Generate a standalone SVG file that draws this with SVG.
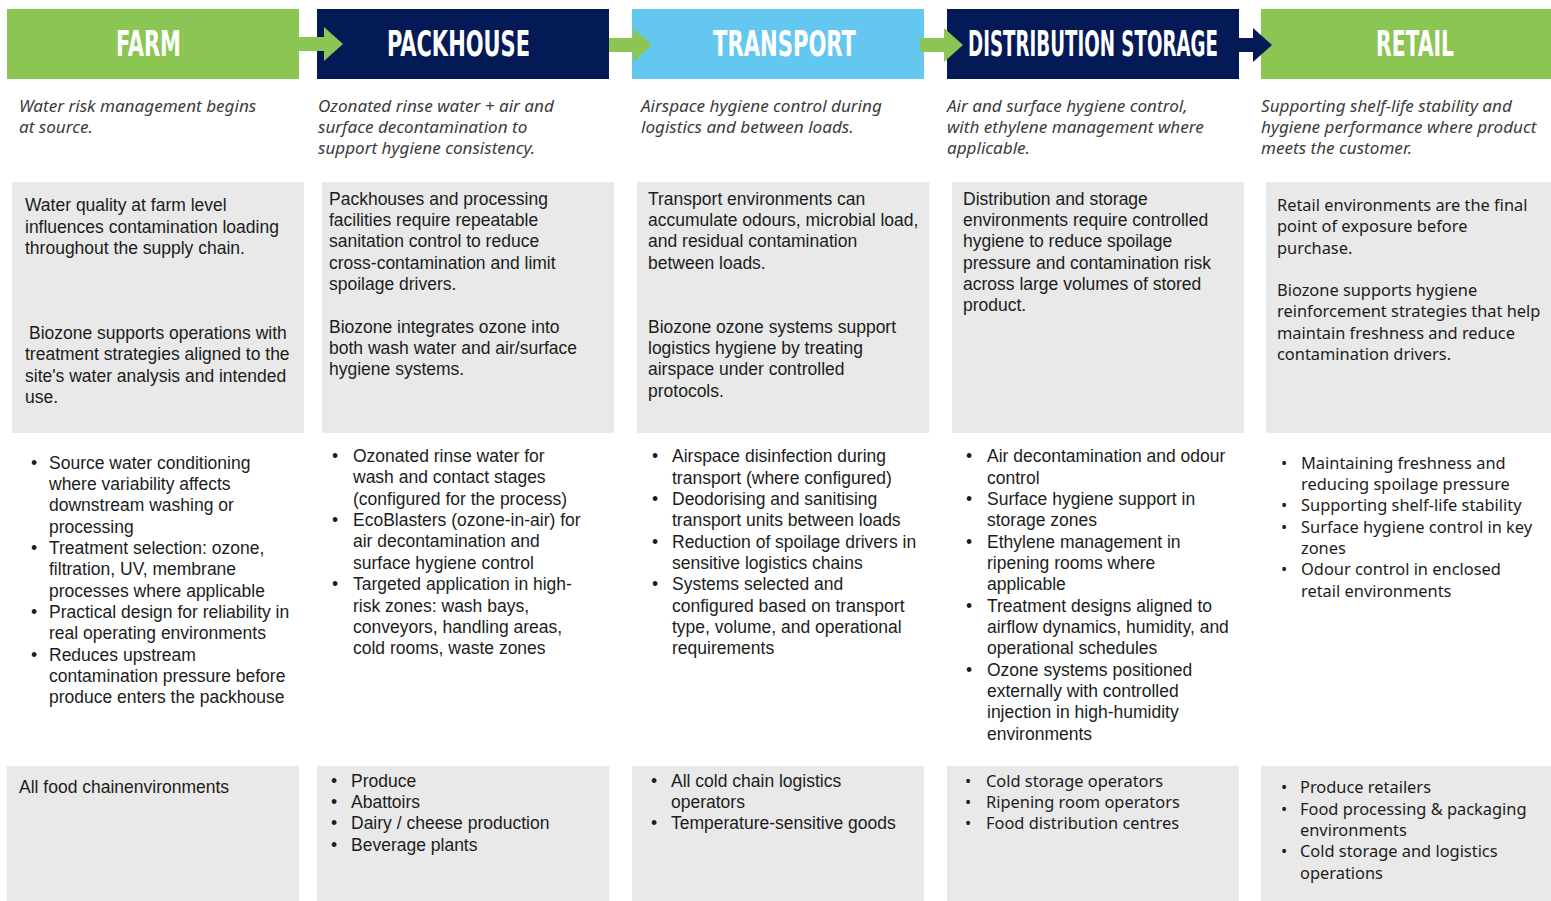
<svg xmlns="http://www.w3.org/2000/svg" width="1551" height="901" viewBox="0 0 1551 901">
<style>
.hdr{font-family:"Liberation Sans Narrow","DejaVu Sans Condensed","Roboto Condensed",sans-serif;font-weight:bold;font-stretch:condensed;font-size:26px;fill:#ffffff;text-anchor:middle}
.sub{font-family:"Noto Sans","Liberation Sans",sans-serif;font-style:italic;font-size:17.1px;fill:#3c3c3c}
.t{font-family:"Liberation Sans",Arial,sans-serif;font-size:17.5px;fill:#1c1c1c}
.n{font-family:"Noto Sans","Open Sans",sans-serif;font-size:16.4px;fill:#1c1c1c}
.card{fill:#e8e9e8}
.green{fill:#8bc553}
.navy{fill:#041a56}
.sky{fill:#63c7ef}
</style>
<rect width="1551" height="901" fill="#ffffff"/>

<g id="farm">
<rect class="green" x="7" y="9" width="292" height="70"/>
<text class="hdr" transform="translate(148.5,56) scale(1,1.385)" x="0" y="0" textLength="65" lengthAdjust="spacingAndGlyphs">FARM</text>
<text class="sub"><tspan x="19" y="111.5">Water risk management begins</tspan><tspan x="19" y="132.5">at source.</tspan></text>
<rect class="card" x="12" y="182" width="292" height="251"/>
<text class="t"><tspan x="25" y="211">Water quality at farm level</tspan><tspan x="25" y="232.5">influences contamination loading</tspan><tspan x="25" y="254">throughout the supply chain.</tspan><tspan x="29" y="339">Biozone supports operations with</tspan><tspan x="25" y="360">treatment strategies aligned to the</tspan><tspan x="25" y="382">site's water analysis and intended</tspan><tspan x="25" y="403">use.</tspan></text>
<text class="t"><tspan x="31" y="469">•</tspan><tspan x="49" y="469">Source water conditioning</tspan><tspan x="49" y="490">where variability affects</tspan><tspan x="49" y="511">downstream washing or</tspan><tspan x="49" y="533">processing</tspan><tspan x="31" y="554">•</tspan><tspan x="49" y="554">Treatment selection: ozone,</tspan><tspan x="49" y="575">filtration, UV, membrane</tspan><tspan x="49" y="597">processes where applicable</tspan><tspan x="31" y="618">•</tspan><tspan x="49" y="618">Practical design for reliability in</tspan><tspan x="49" y="639">real operating environments</tspan><tspan x="31" y="661">•</tspan><tspan x="49" y="661">Reduces upstream</tspan><tspan x="49" y="682">contamination pressure before</tspan><tspan x="49" y="703">produce enters the packhouse</tspan></text>
<rect class="card" x="7" y="766" width="292" height="135"/>
<text class="t"><tspan x="19" y="793">All food chainenvironments</tspan></text>
</g>

<g id="packhouse">
<rect class="navy" x="317" y="9" width="292" height="70"/>
<text class="hdr" transform="translate(458.5,56) scale(1,1.385)" x="0" y="0" textLength="143" lengthAdjust="spacingAndGlyphs">PACKHOUSE</text>
<text class="sub"><tspan x="318" y="111.5">Ozonated rinse water + air and</tspan><tspan x="318" y="132.5">surface decontamination to</tspan><tspan x="318" y="153.5">support hygiene consistency.</tspan></text>
<rect class="card" x="322" y="182" width="292" height="251"/>
<text class="t"><tspan x="329" y="205">Packhouses and processing</tspan><tspan x="329" y="226">facilities require repeatable</tspan><tspan x="329" y="247">sanitation control to reduce</tspan><tspan x="329" y="269">cross-contamination and limit</tspan><tspan x="329" y="290">spoilage drivers.</tspan><tspan x="329" y="333">Biozone integrates ozone into</tspan><tspan x="329" y="354">both wash water and air/surface</tspan><tspan x="329" y="375">hygiene systems.</tspan></text>
<text class="t"><tspan x="332" y="462">•</tspan><tspan x="353" y="462">Ozonated rinse water for</tspan><tspan x="353" y="483">wash and contact stages</tspan><tspan x="353" y="505">(configured for the process)</tspan><tspan x="332" y="526">•</tspan><tspan x="353" y="526">EcoBlasters (ozone-in-air) for</tspan><tspan x="353" y="547">air decontamination and</tspan><tspan x="353" y="569">surface hygiene control</tspan><tspan x="332" y="590">•</tspan><tspan x="353" y="590">Targeted application in high-</tspan><tspan x="353" y="612">risk zones: wash bays,</tspan><tspan x="353" y="633">conveyors, handling areas,</tspan><tspan x="353" y="654">cold rooms, waste zones</tspan></text>
<rect class="card" x="317" y="766" width="292" height="135"/>
<text class="t"><tspan x="331" y="787">•</tspan><tspan x="351" y="787">Produce</tspan><tspan x="331" y="808">•</tspan><tspan x="351" y="808">Abattoirs</tspan><tspan x="331" y="829">•</tspan><tspan x="351" y="829">Dairy / cheese production</tspan><tspan x="331" y="851">•</tspan><tspan x="351" y="851">Beverage plants</tspan></text>
</g>

<g id="transport">
<rect class="sky" x="632" y="9" width="292" height="70"/>
<text class="hdr" transform="translate(784.5,56) scale(1,1.385)" x="0" y="0" textLength="143" lengthAdjust="spacingAndGlyphs">TRANSPORT</text>
<text class="sub"><tspan x="641" y="111.5">Airspace hygiene control during</tspan><tspan x="641" y="132.5">logistics and between loads.</tspan></text>
<rect class="card" x="637" y="182" width="292" height="251"/>
<text class="t"><tspan x="648" y="205">Transport environments can</tspan><tspan x="648" y="226">accumulate odours, microbial load,</tspan><tspan x="648" y="247">and residual contamination</tspan><tspan x="648" y="269">between loads.</tspan><tspan x="648" y="333">Biozone ozone systems support</tspan><tspan x="648" y="354">logistics hygiene by treating</tspan><tspan x="648" y="375">airspace under controlled</tspan><tspan x="648" y="397">protocols.</tspan></text>
<text class="t"><tspan x="652" y="462">•</tspan><tspan x="672" y="462">Airspace disinfection during</tspan><tspan x="672" y="484">transport (where configured)</tspan><tspan x="652" y="505">•</tspan><tspan x="672" y="505">Deodorising and sanitising</tspan><tspan x="672" y="526">transport units between loads</tspan><tspan x="652" y="548">•</tspan><tspan x="672" y="548">Reduction of spoilage drivers in</tspan><tspan x="672" y="569">sensitive logistics chains</tspan><tspan x="652" y="590">•</tspan><tspan x="672" y="590">Systems selected and</tspan><tspan x="672" y="612">configured based on transport</tspan><tspan x="672" y="633">type, volume, and operational</tspan><tspan x="672" y="654">requirements</tspan></text>
<rect class="card" x="632" y="766" width="292" height="135"/>
<text class="t"><tspan x="651" y="787">•</tspan><tspan x="671" y="787">All cold chain logistics</tspan><tspan x="671" y="808">operators</tspan><tspan x="651" y="829">•</tspan><tspan x="671" y="829">Temperature-sensitive goods</tspan></text>
</g>

<g id="distribution-storage">
<rect class="navy" x="947" y="9" width="292" height="70"/>
<text class="hdr" transform="translate(1093,56) scale(1,1.385)" x="0" y="0" textLength="250" lengthAdjust="spacingAndGlyphs">DISTRIBUTION STORAGE</text>
<text class="sub"><tspan x="947" y="111.5">Air and surface hygiene control,</tspan><tspan x="947" y="132.5">with ethylene management where</tspan><tspan x="947" y="153.5">applicable.</tspan></text>
<rect class="card" x="952" y="182" width="292" height="251"/>
<text class="t"><tspan x="963" y="205">Distribution and storage</tspan><tspan x="963" y="226">environments require controlled</tspan><tspan x="963" y="247">hygiene to reduce spoilage</tspan><tspan x="963" y="269">pressure and contamination risk</tspan><tspan x="963" y="290">across large volumes of stored</tspan><tspan x="963" y="311">product.</tspan></text>
<text class="t"><tspan x="966" y="462">•</tspan><tspan x="987" y="462">Air decontamination and odour</tspan><tspan x="987" y="484">control</tspan><tspan x="966" y="505">•</tspan><tspan x="987" y="505">Surface hygiene support in</tspan><tspan x="987" y="526">storage zones</tspan><tspan x="966" y="548">•</tspan><tspan x="987" y="548">Ethylene management in</tspan><tspan x="987" y="569">ripening rooms where</tspan><tspan x="987" y="590">applicable</tspan><tspan x="966" y="612">•</tspan><tspan x="987" y="612">Treatment designs aligned to</tspan><tspan x="987" y="633">airflow dynamics, humidity, and</tspan><tspan x="987" y="654">operational schedules</tspan><tspan x="966" y="676">•</tspan><tspan x="987" y="676">Ozone systems positioned</tspan><tspan x="987" y="697">externally with controlled</tspan><tspan x="987" y="718">injection in high-humidity</tspan><tspan x="987" y="740">environments</tspan></text>
<rect class="card" x="947" y="766" width="292" height="135"/>
<text class="n"><tspan x="965" y="787">•</tspan><tspan x="986" y="787">Cold storage operators</tspan><tspan x="965" y="808">•</tspan><tspan x="986" y="808">Ripening room operators</tspan><tspan x="965" y="829">•</tspan><tspan x="986" y="829">Food distribution centres</tspan></text>
</g>

<g id="retail">
<rect class="green" x="1261" y="9" width="290" height="70"/>
<text class="hdr" transform="translate(1415,56) scale(1,1.385)" x="0" y="0" textLength="78" lengthAdjust="spacingAndGlyphs">RETAIL</text>
<text class="sub"><tspan x="1261" y="111.5">Supporting shelf-life stability and</tspan><tspan x="1261" y="132.5">hygiene performance where product</tspan><tspan x="1261" y="153.5">meets the customer.</tspan></text>
<rect class="card" x="1266" y="182" width="285" height="251"/>
<text class="n"><tspan x="1277" y="211">Retail environments are the final</tspan><tspan x="1277" y="232">point of exposure before</tspan><tspan x="1277" y="254">purchase.</tspan><tspan x="1277" y="296">Biozone supports hygiene</tspan><tspan x="1277" y="317">reinforcement strategies that help</tspan><tspan x="1277" y="339">maintain freshness and reduce</tspan><tspan x="1277" y="360">contamination drivers.</tspan></text>
<text class="n"><tspan x="1281" y="469">•</tspan><tspan x="1301" y="469">Maintaining freshness and</tspan><tspan x="1301" y="490">reducing spoilage pressure</tspan><tspan x="1281" y="511">•</tspan><tspan x="1301" y="511">Supporting shelf-life stability</tspan><tspan x="1281" y="533">•</tspan><tspan x="1301" y="533">Surface hygiene control in key</tspan><tspan x="1301" y="554">zones</tspan><tspan x="1281" y="575">•</tspan><tspan x="1301" y="575">Odour control in enclosed</tspan><tspan x="1301" y="597">retail environments</tspan></text>
<rect class="card" x="1261" y="766" width="290" height="135"/>
<text class="n"><tspan x="1281" y="793">•</tspan><tspan x="1300" y="793">Produce retailers</tspan><tspan x="1281" y="815">•</tspan><tspan x="1300" y="815">Food processing &amp; packaging</tspan><tspan x="1300" y="836">environments</tspan><tspan x="1281" y="857">•</tspan><tspan x="1300" y="857">Cold storage and logistics</tspan><tspan x="1300" y="879">operations</tspan></text>
</g>

<g id="connectors">
<path class="green" d="M299,37 H324 V27 L343,44 L324,61 V51 H299 Z"/>
<path class="green" d="M609,38 H633 V28 L652,45 L633,62 V52 H609 Z"/>
<path class="green" d="M920,38 H944 V28 L963,45 L944,62 V52 H920 Z"/>
<path class="navy" d="M1238,38 H1253 V28 L1272,45 L1253,62 V52 H1238 Z"/>
</g>
</svg>
